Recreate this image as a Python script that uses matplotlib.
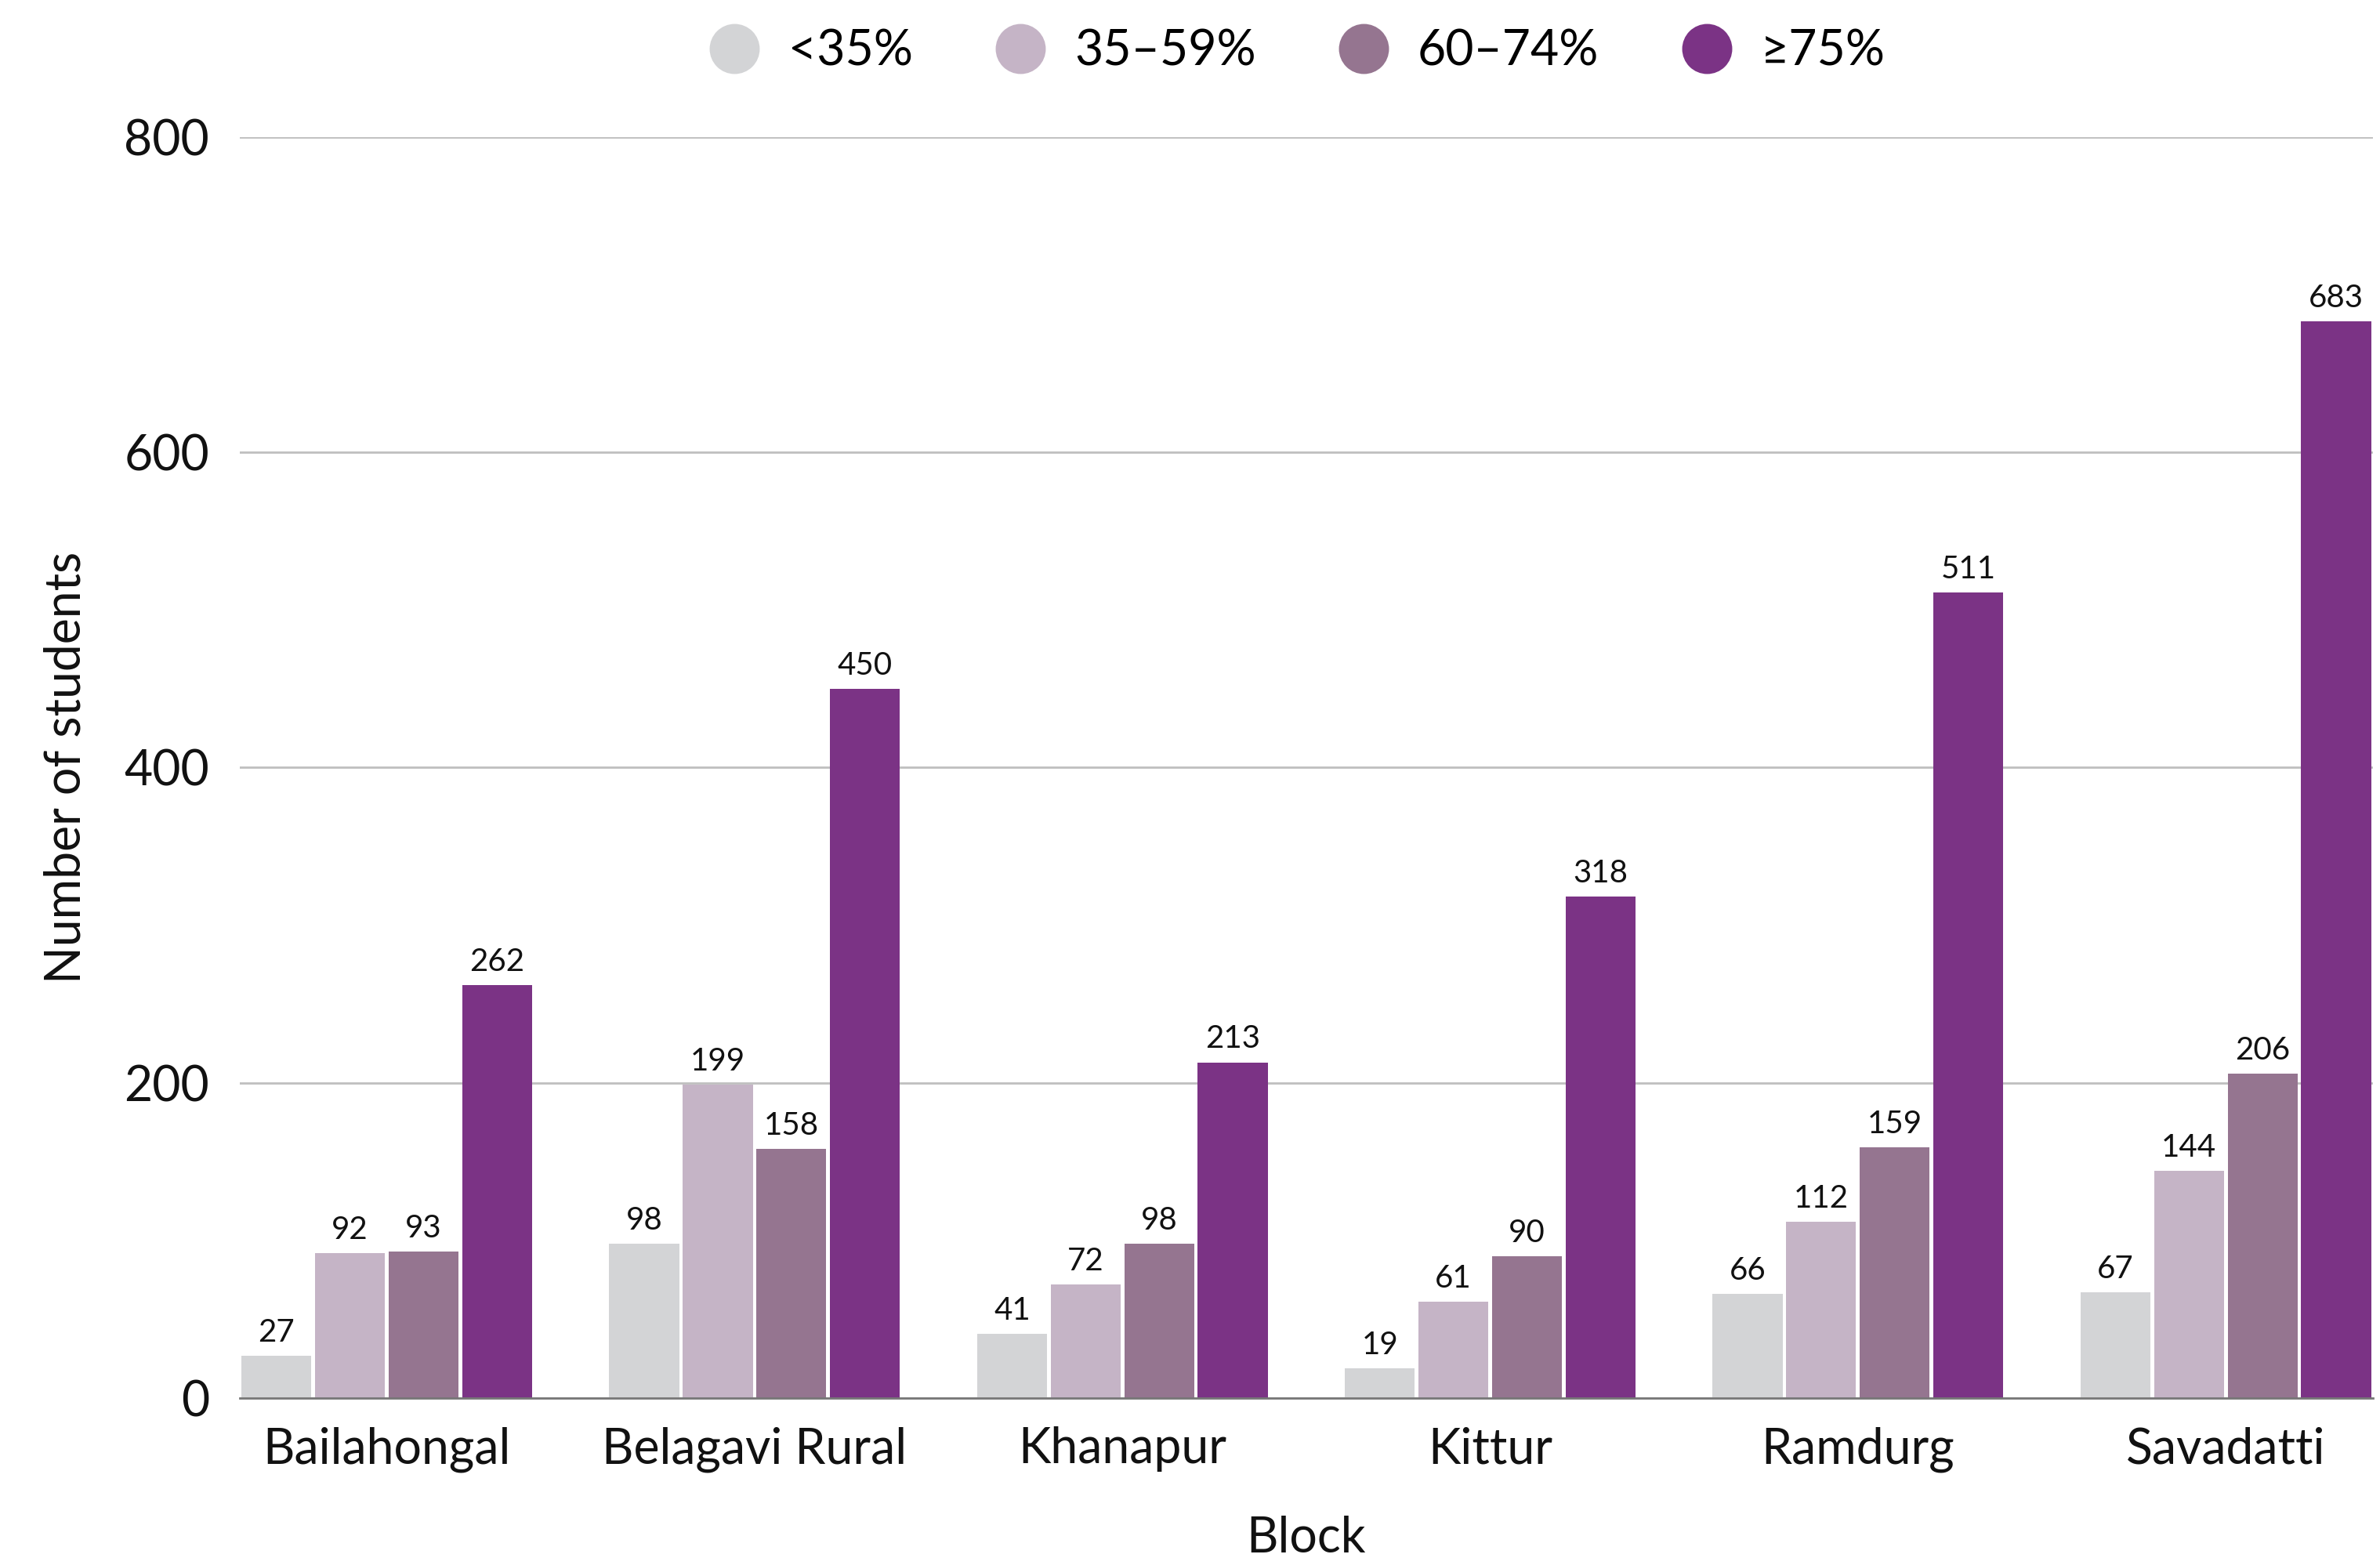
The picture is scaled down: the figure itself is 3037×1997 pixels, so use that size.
import matplotlib
matplotlib.use("Agg")
import matplotlib.pyplot as plt
import numpy as np
from matplotlib.lines import Line2D

plt.rcParams['font.family'] = ['Lato', 'DejaVu Sans']

blocks = ["Bailahongal", "Belagavi Rural", "Khanapur", "Kittur", "Ramdurg", "Savadatti"]
series_names = ["<35%", "35–59%", "60–74%", "≥75%"]
lt35 = [27, 98, 41, 19, 66, 67]
s35_59 = [92, 199, 72, 61, 112, 144]
s60_74 = [93, 158, 98, 90, 159, 206]
ge75 = [262, 450, 213, 318, 511, 683]
colors = ["#D3D4D6", "#C5B4C6", "#957590", "#7B3385"]
yticks = [0, 200, 400, 600, 800]

series = [lt35, s35_59, s60_74, ge75]

fig = plt.figure(figsize=(15.185, 9.985), dpi=200)
ax = fig.add_axes([0.1007, 0.1066, 0.8963, 0.806])

x = np.arange(len(blocks))
pitch = 0.2
bw = 0.19
for i, (vals, c) in enumerate(zip(series, colors)):
    xs = x - 0.4 + pitch * i + pitch / 2
    ax.bar(xs, vals, width=bw, color=c, zorder=3, label=series_names[i])
    for xx, v in zip(xs, vals):
        ax.annotate(str(v), (xx, v), xytext=(0, 4), textcoords="offset points",
                    ha="center", va="bottom", fontsize=14.5, color="#111111")

ax.set_xlim(-0.4, len(blocks) - 0.6)
ax.set_ylim(0, 800)
ax.set_yticks(yticks)
ax.set_xticks(x)
ax.set_xticklabels(blocks)
ax.tick_params(axis='both', length=0, labelsize=22.5, colors="#111111")
ax.tick_params(axis='y', pad=14)
ax.tick_params(axis='x', pad=13)
ax.yaxis.grid(True, color="#BFBFBF", linewidth=1.0, zorder=0)
ax.set_axisbelow(True)
for s in ["top", "right", "left"]:
    ax.spines[s].set_visible(False)
ax.spines["bottom"].set_color("#777777")
ax.spines["bottom"].set_linewidth(1.0)
ax.spines["bottom"].set_zorder(4)

ax.set_xlabel("Block", fontsize=22.5, labelpad=20, color="#111111")
ax.set_ylabel("Number of students", fontsize=22.5, labelpad=16, color="#111111")

handles = [Line2D([0], [0], marker='o', linestyle='None', markersize=22,
                  markerfacecolor=c, markeredgecolor=c) for c in colors]
fig.legend(handles, series_names, loc="center", bbox_to_anchor=(0.540, 0.967),
           ncol=4, frameon=False, fontsize=22.5, handletextpad=0.1, columnspacing=1.2,
           borderaxespad=0)

fig.savefig("out.png", dpi=200, facecolor="white")
